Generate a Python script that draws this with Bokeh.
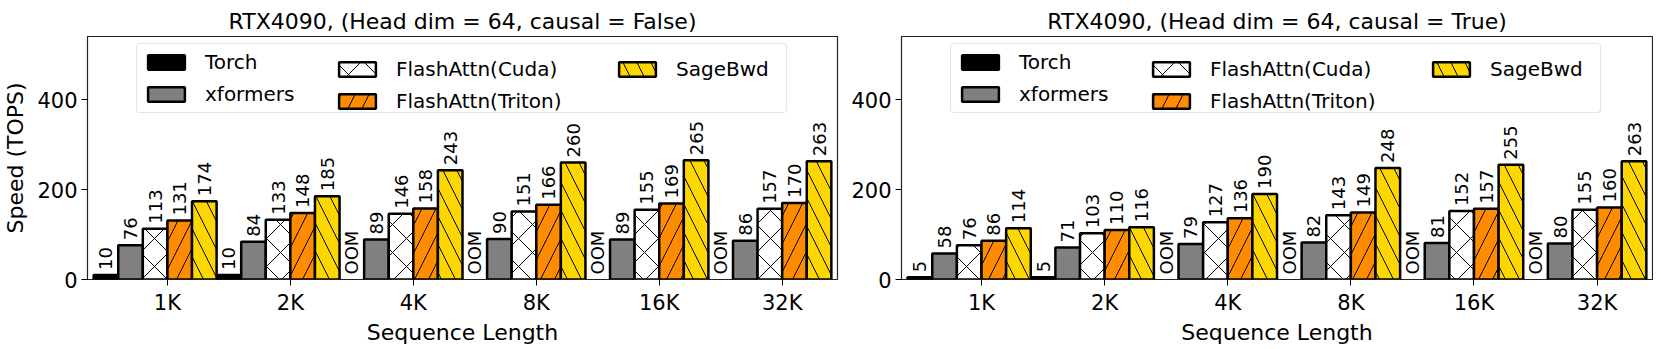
import math
from bokeh.plotting import figure
from bokeh.models import Range1d, FixedTicker, Legend, LegendItem, ColumnDataSource
from bokeh.layouts import row
from bokeh.embed import file_html
from bokeh.resources import INLINE
from bokeh.core.properties import value

groups = ["1K", "2K", "4K", "8K", "16K", "32K"]
series = ["Torch", "xformers", "FlashAttn(Cuda)", "FlashAttn(Triton)", "SageBwd"]

# None = OOM
nc_torch = [10, 10, None, None, None, None]
nc_xformers = [76, 84, 89, 90, 89, 86]
nc_fa_cuda = [113, 133, 146, 151, 155, 157]
nc_fa_triton = [131, 148, 158, 166, 169, 170]
nc_sagebwd = [174, 185, 243, 260, 265, 263]

c_torch = [5, 5, None, None, None, None]
c_xformers = [58, 71, 79, 82, 81, 80]
c_fa_cuda = [76, 103, 127, 143, 152, 155]
c_fa_triton = [86, 110, 136, 149, 157, 160]
c_sagebwd = [114, 116, 190, 248, 255, 263]

titles = ["RTX4090, (Head dim = 64, causal = False)",
          "RTX4090, (Head dim = 64, causal = True)"]
x_label = "Sequence Length"
y_label = "Speed (TOPS)"

fills = ["black", "#808080", "white", "#FF8C00", "#FFD700"]
hatches = [None, None, "x", "/", "\\"]
offsets = [-0.5, -0.3, -0.1, 0.1, 0.3]
BAR_W = 0.2
FONT = "DejaVu Sans"
X0, X1 = -0.65, 5.45
Y1 = 540


def style_legend(leg, bg):
    leg.orientation = "vertical"
    leg.label_text_font = FONT
    leg.label_text_font_size = "20px"
    leg.label_text_color = "black"
    leg.glyph_width = 46
    leg.glyph_height = 18
    leg.label_height = 24
    leg.label_standoff = 16
    leg.padding = 6
    leg.spacing = 8
    leg.margin = 0
    if bg:
        leg.border_line_color = "#cccccc"
        leg.border_line_width = 1
        leg.background_fill_color = "white"
        leg.background_fill_alpha = 0.8
        if "border_radius" in Legend.properties():
            leg.border_radius = 4
    else:
        leg.border_line_color = None
        leg.background_fill_color = None
        leg.background_fill_alpha = 0


def make_fig(title, data, left_border, right_border, width, ylabel):
    p = figure(width=width, height=347, output_backend="svg", toolbar_location=None,
               x_range=Range1d(X0, X1), y_range=Range1d(0, Y1),
               min_border_left=left_border, min_border_right=right_border,
               min_border_top=36, min_border_bottom=66, title=title)
    p.title.text_font = FONT
    p.title.text_font_size = "22px"
    p.title.text_font_style = "normal"
    p.title.text_color = "black"
    p.title.align = "center"
    p.title.standoff = 5
    p.xgrid.visible = False
    p.ygrid.visible = False
    p.outline_line_color = "#222222"
    p.outline_line_width = 1.2

    renderers = []
    for k, vals in enumerate(data):
        xs, tops, lx, ly, lt = [], [], [], [], []
        for i, v in enumerate(vals):
            x = i + offsets[k]
            if v is None:
                lx.append(x); ly.append(0); lt.append("OOM")
            else:
                xs.append(x); tops.append(v)
                lx.append(x); ly.append(v); lt.append(str(v))
        src = ColumnDataSource(dict(x=xs, top=tops))
        kw = dict(x="x", top="top", bottom=0, width=BAR_W, source=src,
                  fill_color=fills[k], line_color="black", line_width=2.5)
        if hatches[k]:
            kw.update(hatch_pattern=hatches[k], hatch_color="black", hatch_weight=1,
                      hatch_scale=28)
        r = p.vbar(**kw)
        renderers.append(r)
        lsrc = ColumnDataSource(dict(x=lx, y=ly, t=lt))
        p.text(x="x", y="y", text="t", source=lsrc, angle=math.pi / 2,
               text_align="left", text_baseline="middle", y_offset=-5,
               text_font=value(FONT), text_font_size="18px", text_color="black")

    # legend: three columns built as three overlaid legends
    legA = Legend(items=[LegendItem(label=series[0], renderers=[renderers[0]]),
                         LegendItem(label=series[1], renderers=[renderers[1]])],
                  location=(49, 166))
    style_legend(legA, True)
    legA.label_width = 575
    legB = Legend(items=[LegendItem(label=series[2], renderers=[renderers[2]]),
                         LegendItem(label=series[3], renderers=[renderers[3]])],
                  location=(247, 166))
    style_legend(legB, False)
    legC = Legend(items=[LegendItem(label=series[4], renderers=[renderers[4]])],
                  location=(527, 198))
    style_legend(legC, False)
    p.add_layout(legA)
    p.add_layout(legB)
    p.add_layout(legC)

    p.xaxis.ticker = FixedTicker(ticks=list(range(len(groups))))
    p.xaxis.major_label_overrides = {i: g for i, g in enumerate(groups)}
    p.yaxis.ticker = FixedTicker(ticks=[0, 200, 400])
    for ax in (p.xaxis, p.yaxis):
        ax.axis_line_color = None
        ax.major_tick_in = 0
        ax.major_tick_out = 6
        ax.minor_tick_line_color = None
        ax.major_tick_line_color = "black"
        ax.major_label_text_font = FONT
        ax.major_label_text_font_size = "21px"
        ax.major_label_text_color = "black"
        ax.axis_label_text_font = FONT
        ax.axis_label_text_font_size = "22px"
        ax.axis_label_text_font_style = "normal"
        ax.axis_label_text_color = "black"
    p.xaxis.major_label_standoff = 5
    p.xaxis.axis_label_standoff = 2
    p.yaxis.major_label_standoff = 4
    p.yaxis.axis_label_standoff = 6
    p.xaxis.axis_label = x_label
    if ylabel:
        p.yaxis.axis_label = ylabel
    return p


p1 = make_fig(titles[0], [nc_torch, nc_xformers, nc_fa_cuda, nc_fa_triton, nc_sagebwd],
              87, 3, 840, y_label)
p2 = make_fig(titles[1], [c_torch, c_xformers, c_fa_cuda, c_fa_triton, c_sagebwd],
              61, 1, 813, None)

layout = row(p1, p2)
open("out.html", "w").write(file_html(layout, INLINE))
